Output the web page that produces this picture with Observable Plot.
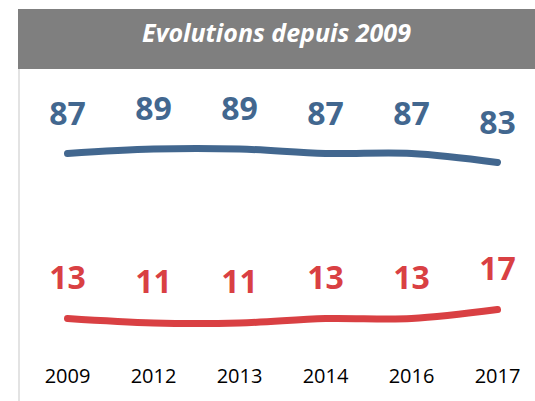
<!DOCTYPE html>
<html>
<head>
<meta charset="utf-8">
<script src="https://cdn.jsdelivr.net/npm/d3@7"></script>
<script src="https://cdn.jsdelivr.net/npm/@observablehq/plot@0.6"></script>
<style>
  html, body { margin: 0; padding: 0; background: #fff; }
  #wrap { position: relative; width: 535px; height: 401px; overflow: hidden; }
  #header { position: absolute; left: 18px; top: 9px; width: 517px; height: 60px; background: #7f7f7f; }
  #title { position: absolute; left: 0; right: 0; top: 10.8px; text-align: center; color: #fff;
           font: italic 700 25px/25px "Open Sans", sans-serif; white-space: nowrap; }
  #border { position: absolute; left: 18px; top: 69px; width: 2px; height: 332px; background: #e3e3e3; }
  #chart { position: absolute; left: 0; top: 69px; }
</style>
</head>
<body>
<div id="wrap">
  <div id="header"><div id="title">Evolutions depuis 2009</div></div>
  <div id="border"></div>
  <div id="chart"></div>
</div>
<script>
const years = ["2009", "2012", "2013", "2014", "2016", "2017"];
const blueValues = [87, 89, 89, 87, 87, 83];
const redValues = [13, 11, 11, 13, 13, 17];
const blueColor = "#42678f";
const redColor = "#d94043";

const blue = years.map((year, i) => ({year, value: blueValues[i]}));
const red = years.map((year, i) => ({year, value: redValues[i]}));

const chart = Plot.plot({
  width: 535,
  height: 332,
  marginLeft: 67,
  marginRight: 38,
  marginTop: 55,
  marginBottom: 54,
  style: {background: "transparent", overflow: "visible"},
  x: {type: "point", domain: years, padding: 0},
  y: {domain: [0, 100], axis: null},
  marks: [
    Plot.axisX({tickSize: 0, tickPadding: 21, fontSize: 20, fill: "#000",
                fontFamily: "Open Sans, sans-serif", label: null}),
    Plot.line(blue, {x: "year", y: "value", stroke: blueColor, strokeWidth: 7, curve: "catmull-rom", strokeLinecap: "round"}),
    Plot.line(red, {x: "year", y: "value", stroke: redColor, strokeWidth: 7, curve: "catmull-rom", strokeLinecap: "round"}),
    Plot.text(blue, {x: "year", y: "value", text: d => String(d.value), dy: -39, fill: blueColor,
                     fontSize: 32, fontWeight: "bold", fontFamily: "Open Sans, sans-serif"}),
    Plot.text(red, {x: "year", y: "value", text: d => String(d.value), dy: -40, fill: redColor,
                    fontSize: 32, fontWeight: "bold", fontFamily: "Open Sans, sans-serif"})
  ]
});
document.getElementById("chart").appendChild(chart);
</script>
</body>
</html>
